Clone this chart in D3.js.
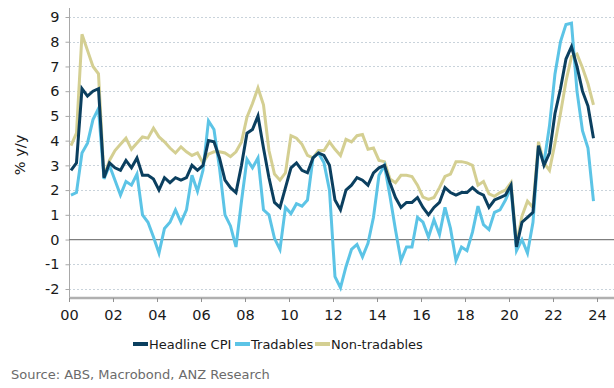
<!DOCTYPE html>
<html>
<head>
<meta charset="utf-8">
<script src="https://cdn.jsdelivr.net/npm/d3@7"></script>
<style>
  html, body { margin: 0; padding: 0; background: #fff; }
  svg { display: block; font-family: "DejaVu Sans", Verdana, sans-serif; }
</style>
</head>
<body>
<svg id="chart" width="614" height="388"></svg>
<script>
// Quarterly data, 2000 Q1 to 2023 Q4 (% y/y)
const startYear = 2000;
const headline = [2.8,3.1,6.1,5.8,6.0,6.1,2.5,3.1,2.9,2.8,3.2,2.9,3.3,2.6,2.6,2.45,2.0,2.5,2.3,2.5,2.4,2.5,3.0,2.8,
  3.0,4.0,3.95,3.3,2.4,2.1,1.9,3.0,4.3,4.45,5.0,3.7,2.5,1.5,1.3,2.1,2.9,3.1,2.8,2.7,3.3,3.5,3.4,3.0,
  1.6,1.2,2.0,2.2,2.5,2.4,2.2,2.7,2.9,3.0,2.3,1.7,1.3,1.5,1.5,1.7,1.3,1.0,1.3,1.5,2.1,1.9,1.8,1.9,
  1.9,2.1,1.9,1.8,1.3,1.6,1.7,1.8,2.2,-0.3,0.7,0.9,1.1,3.8,3.0,3.5,5.1,6.1,7.3,7.8,7.0,6.0,5.4,4.1];
const tradables = [1.8,1.9,3.5,3.9,4.85,5.3,2.45,3.0,2.4,1.8,2.35,2.2,2.65,1.0,0.7,0.1,-0.55,0.45,0.7,1.2,0.7,1.2,2.6,1.95,
  2.8,4.8,4.45,2.9,1.0,0.55,-0.3,1.55,3.25,2.9,3.3,1.2,1.0,0.05,-0.4,1.3,1.05,1.45,1.35,1.6,3.3,3.5,3.1,2.0,
  -1.5,-1.95,-1.1,-0.4,-0.2,-0.7,-0.15,0.9,2.6,3.0,1.75,0.4,-0.85,-0.3,-0.3,0.9,0.7,0.1,0.8,0.2,1.3,0.45,-0.85,-0.3,
  -0.45,0.3,1.35,0.6,0.4,1.1,1.2,1.6,2.1,-0.45,0.0,-0.55,0.7,3.7,3.1,4.6,6.7,8.0,8.7,8.75,6.0,4.4,3.7,1.55];
const nonTradables = [3.8,4.3,8.3,7.65,7.0,6.7,2.55,3.2,3.6,3.85,4.1,3.65,3.9,4.15,4.1,4.5,4.15,3.95,3.7,3.5,3.75,3.55,3.4,3.5,
  3.1,3.45,3.55,3.55,3.5,3.35,3.55,3.95,4.95,5.5,6.13,5.45,3.6,2.65,2.4,2.7,4.2,4.1,3.85,3.4,3.3,3.6,3.6,3.95,
  3.65,3.4,4.05,3.95,4.2,4.25,3.65,3.7,3.2,3.15,2.45,2.3,2.6,2.6,2.55,2.2,1.72,1.62,1.7,2.1,2.55,2.65,3.15,3.15,
  3.1,3.0,2.2,2.35,1.85,1.75,1.9,2.0,2.3,-0.2,0.95,1.55,1.3,3.95,3.1,2.8,3.9,5.1,6.4,7.4,7.5,6.95,6.3,5.45];
const seriesNames = ["Headline CPI", "Tradables", "Non-tradables"];
const seriesColors = ["#0b3f5f", "#5cc4e6", "#d4cf92"];
const yTicks = [-2,-1,0,1,2,3,4,5,6,7,8,9];
const xTickYears = [2000,2002,2004,2006,2008,2010,2012,2014,2016,2018,2020,2022,2024];
const xTickLabels = ["00","02","04","06","08","10","12","14","16","18","20","22","24"];
const yTitle = "% y/y";
const sourceText = "Source: ABS, Macrobond, ANZ Research";

// quarter positions (decimal year)
const tq = headline.map((d, i) => startYear + i * 0.25 + 0.09);

const svg = d3.select("#chart");
const pLeft = 69, pRight = 614, pTop = 17, pBottom = 289; // y=9 at top, y=-2 at bottom
const axisY = 298;

const x = d3.scaleLinear().domain([2000, 2000 + (pRight - pLeft) / 22]).range([pLeft, pRight]);
const y = d3.scaleLinear().domain([-2, 9]).range([pBottom, pTop]);

// gridlines
svg.append("g").selectAll("line").data(yTicks.filter(v => v !== 0)).join("line")
  .attr("x1", pLeft).attr("x2", pRight)
  .attr("y1", d => Math.round(y(d)) + 0.5).attr("y2", d => Math.round(y(d)) + 0.5)
  .attr("stroke", "#c9d3db").attr("stroke-width", 1).attr("stroke-dasharray", "2,2");

// y axis
const yAxis = d3.axisLeft(y).tickValues(yTicks).tickSize(4).tickPadding(6).tickFormat(d3.format("d"));
const gy = svg.append("g").attr("transform", `translate(${pLeft + 0.5},0)`).call(yAxis);
gy.select(".domain").attr("d", `M0,8V${axisY}`).attr("stroke", "#a8a8a8");
gy.selectAll(".tick line").attr("stroke", "#a8a8a8");
gy.selectAll(".tick text").attr("font-size", "14.5px").attr("fill", "#1a1a1a")
  .attr("font-family", "'DejaVu Sans', Verdana, sans-serif").text(d => d < 0 ? "-" + Math.abs(d) : d);

// zero line
svg.append("line").attr("x1", pLeft).attr("x2", pRight)
  .attr("y1", y(0)).attr("y2", y(0)).attr("stroke", "#7f7f7f").attr("stroke-width", 1.3);

// x axis
const xAxis = d3.axisBottom(x).tickValues(xTickYears).tickSize(4).tickPadding(8)
  .tickFormat((d, i) => xTickLabels[i]);
const gx = svg.append("g").attr("transform", `translate(0,${axisY})`).call(xAxis);
gx.select(".domain").attr("d", `M${pLeft},0H${pRight}`).attr("stroke", "#b0b0b0").attr("stroke-width", 2.5);
gx.selectAll(".tick line").attr("stroke", "#909090");
gx.selectAll(".tick text").attr("font-size", "14.5px").attr("fill", "#1a1a1a")
  .attr("font-family", "'DejaVu Sans', Verdana, sans-serif");

// lines (draw order: non-tradables, tradables, headline on top)
const line = d3.line().x((d, i) => x(tq[i])).y(d => y(d));
const allSeries = [headline, tradables, nonTradables];
[2, 1, 0].forEach(k => {
  svg.append("path").datum(allSeries[k])
    .attr("fill", "none").attr("stroke", seriesColors[k]).attr("stroke-width", 3)
    .attr("stroke-linejoin", "miter").attr("d", line);
});

// y title
svg.append("text").attr("transform", "translate(25,155) rotate(-90)")
  .attr("text-anchor", "middle").attr("font-size", "14.5px").attr("fill", "#1a1a1a").text(yTitle);

// legend
const legendX = [133, 235, 315];
const lg = svg.append("g");
seriesNames.forEach((name, k) => {
  lg.append("rect").attr("x", legendX[k]).attr("y", 342).attr("width", 15).attr("height", 4)
    .attr("fill", seriesColors[k]);
  lg.append("text").attr("x", legendX[k] + 16).attr("y", 349).attr("font-size", "13px")
    .attr("fill", "#1a1a1a").text(name);
});

// source
svg.append("text").attr("x", 11).attr("y", 379).attr("font-size", "13px").attr("fill", "#6b6b6b")
  .text(sourceText);
</script>
</body>
</html>
